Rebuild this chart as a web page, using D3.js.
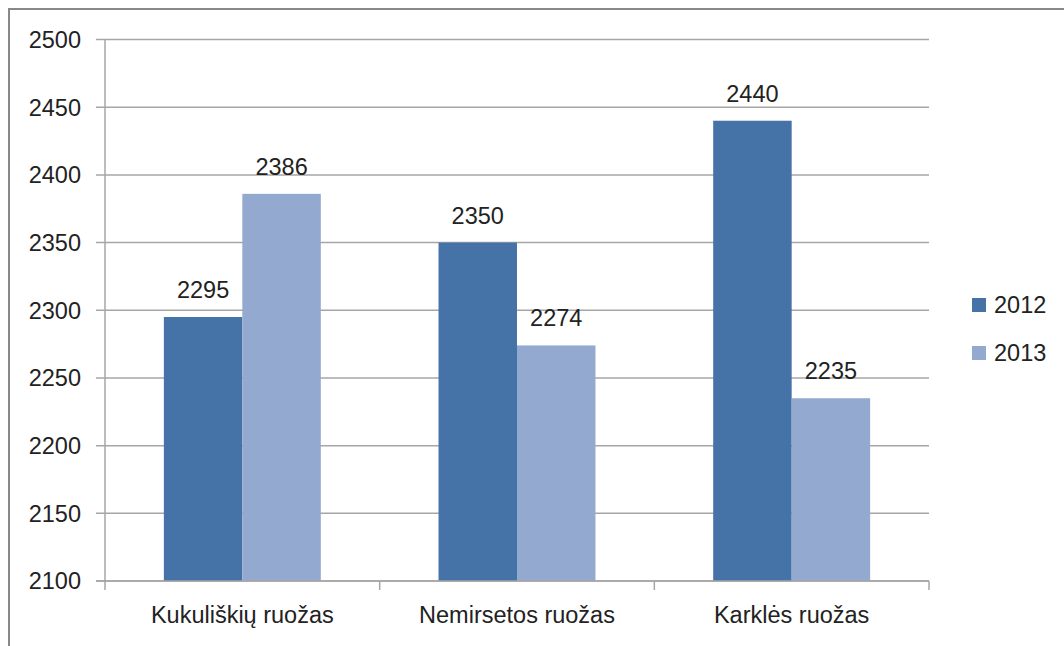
<!DOCTYPE html>
<html><head><meta charset="utf-8">
<script src="https://cdn.jsdelivr.net/npm/d3@7"></script>
<style>body{margin:0;background:#fff}svg{display:block}text{font-family:"Liberation Sans",Arial,sans-serif;fill:#222}</style>
</head><body>
<svg id="c" width="1064" height="646"></svg>
<script>
const categories = ["Kukuliškių ruožas", "Nemirsetos ruožas", "Karklės ruožas"];
const seriesNames = ["2012", "2013"];
const values2012 = [2295, 2350, 2440];
const values2013 = [2386, 2274, 2235];
const yTicks = [2100, 2150, 2200, 2250, 2300, 2350, 2400, 2450, 2500];
const colors = ["#4572A7", "#93A9CF"];

const svg = d3.select("#c");
svg.append("rect").attr("x", 9).attr("y", 9).attr("width", 1100).attr("height", 700)
  .attr("fill", "none").attr("stroke", "#888").attr("stroke-width", 2);

const L = 105, R = 929, T = 39.5, B = 581;
const x = d3.scaleBand().domain(categories).range([L, R]).paddingInner(0).paddingOuter(0);
const y = d3.scaleLinear().domain([2100, 2500]).range([B, T]);
const bw = x.bandwidth() / 3.5;

const grid = svg.append("g");
yTicks.forEach(t => {
  grid.append("line").attr("x1", 96).attr("x2", R).attr("y1", y(t)).attr("y2", y(t))
    .attr("stroke", "#a6a6a6").attr("stroke-width", 1.5);
  svg.append("text").attr("x", 81).attr("y", y(t)).attr("dy", "0.36em")
    .attr("text-anchor", "end").attr("font-size", 23.5).text(t);
});
svg.append("line").attr("x1", L).attr("x2", L).attr("y1", T).attr("y2", B + 1)
  .attr("stroke", "#a6a6a6").attr("stroke-width", 1.5);
categories.concat([null]).forEach((c, i) => {
  const xx = i < categories.length ? x(c) : R;
  svg.append("line").attr("x1", xx).attr("x2", xx).attr("y1", B).attr("y2", B + 9)
    .attr("stroke", "#a6a6a6").attr("stroke-width", 1.5);
});

const series = [values2012, values2013];
series.forEach((vals, si) => {
  categories.forEach((c, ci) => {
    const v = vals[ci];
    const bx = x(c) + bw * 0.75 + si * bw;
    svg.append("rect").attr("x", bx).attr("y", y(v)).attr("width", bw).attr("height", y(2100) - y(v))
      .attr("fill", colors[si]);
    svg.append("text").attr("x", bx + bw / 2).attr("y", y(v) - 19)
      .attr("text-anchor", "middle").attr("font-size", 23.5).text(v);
  });
});
// redraw baseline on top
svg.append("line").attr("x1", 96).attr("x2", R).attr("y1", B).attr("y2", B)
  .attr("stroke", "#a6a6a6").attr("stroke-width", 1.5);

categories.forEach(c => {
  svg.append("text").attr("x", x(c) + x.bandwidth() / 2).attr("y", 623)
    .attr("text-anchor", "middle").attr("font-size", 23.5).text(c);
});

seriesNames.forEach((s, i) => {
  const ly = 305 + i * 48;
  svg.append("rect").attr("x", 972).attr("y", ly - 7).attr("width", 14).attr("height", 14).attr("fill", colors[i]);
  svg.append("text").attr("x", 994).attr("y", ly).attr("dy", "0.36em").attr("font-size", 23.5).text(s);
});
</script>
</body></html>
